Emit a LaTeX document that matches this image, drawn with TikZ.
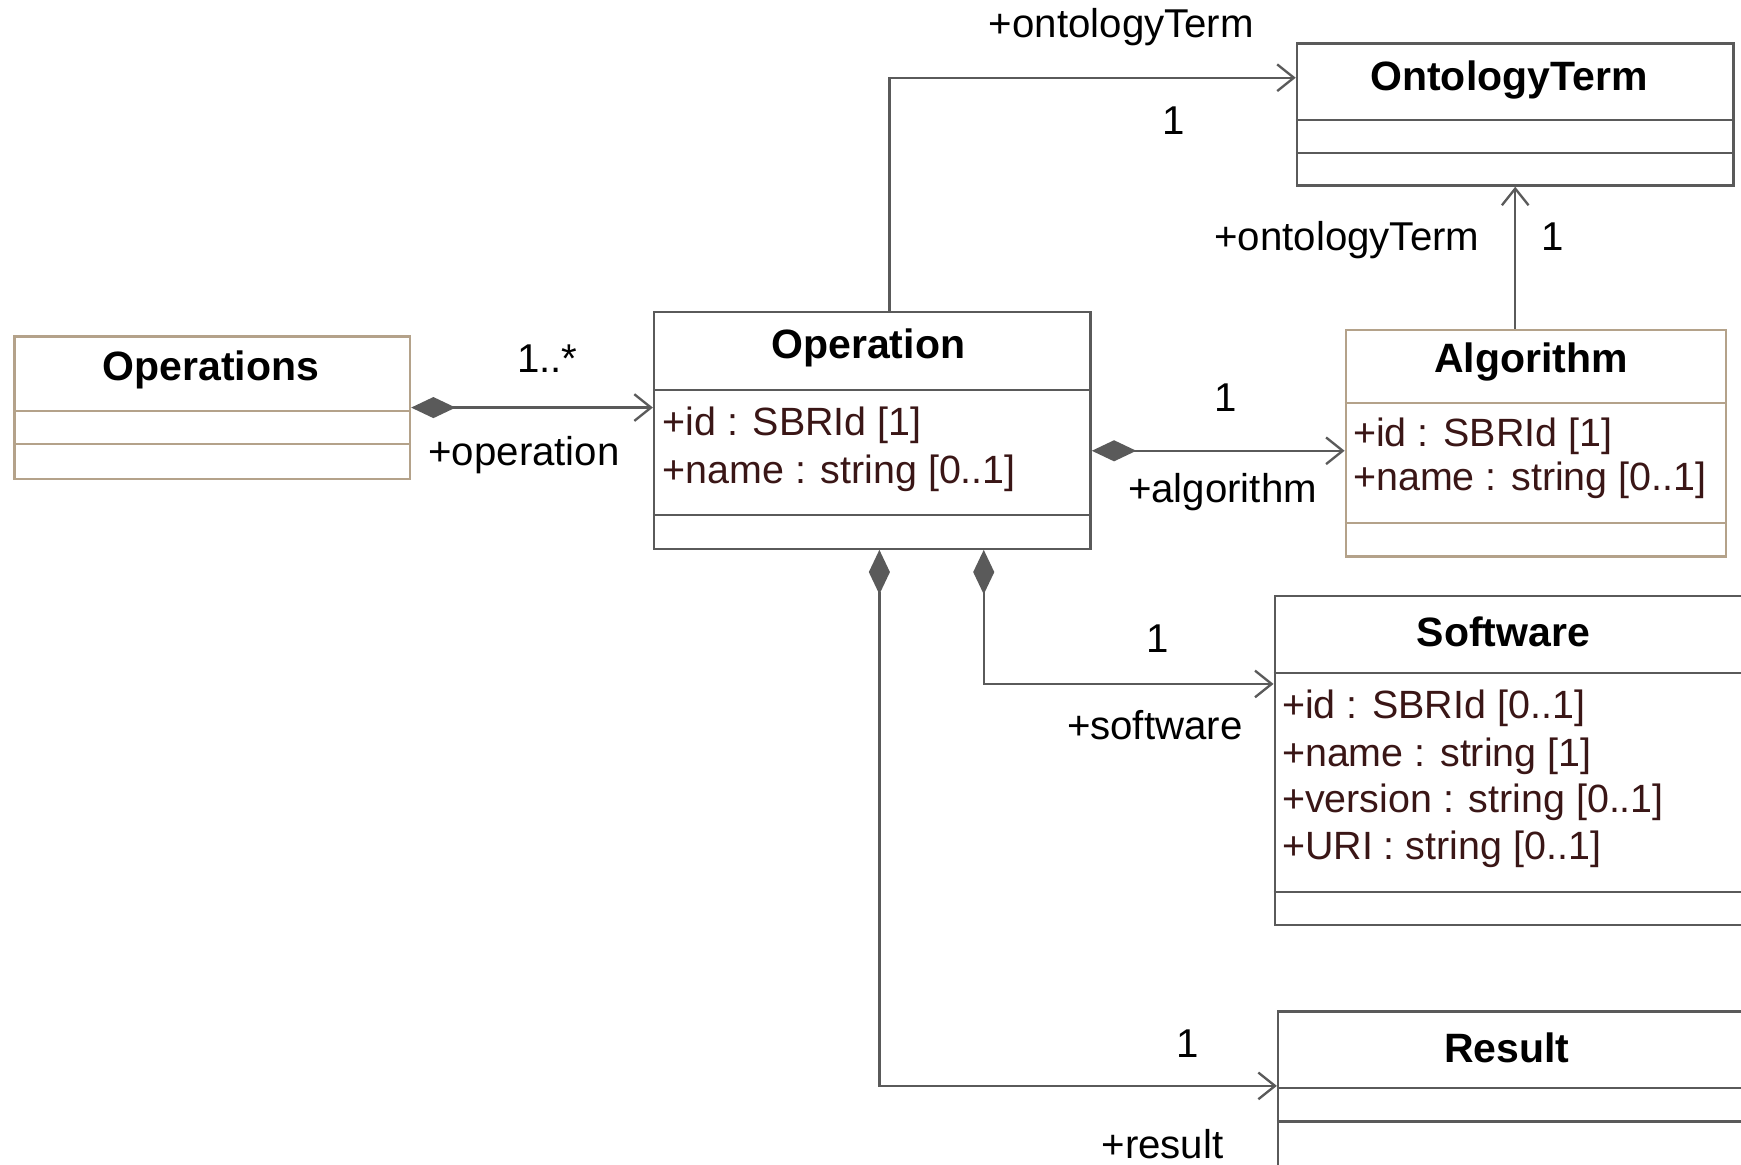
\documentclass[tikz,border=0pt]{standalone}
\usepackage{fontspec}
\setmainfont{Liberation Sans}
\usetikzlibrary{arrows.meta}
\definecolor{linegray}{HTML}{5A5A5A}
\definecolor{boxtan}{HTML}{B4A28A}
\definecolor{attrbrown}{HTML}{3A1616}

% class box: name, colour, top-left, width, height, header line, second line
\newcommand{\UmlClass}[7]{
\node[classbox, draw=#2, minimum width=#4cm, minimum height=#5cm] (#1) at (#3) {};
\draw[#2, boxline] ([yshift=-#6cm]#1.north west) -- ([yshift=-#6cm]#1.north east);
\draw[#2, boxline] ([yshift=-#7cm]#1.north west) -- ([yshift=-#7cm]#1.north east);
}

\begin{document}
\begin{tikzpicture}[x=0.01cm, y=-0.01cm,
classbox/.style={anchor=north west, inner sep=0, line width=.6pt, fill=white},
boxline/.style={line width=.6pt},
title/.style={font=\fontsize{10.5}{12}\selectfont\bfseries, inner sep=0},
attr/.style={font=\fontsize{10.1}{12}\selectfont, text=attrbrown, anchor=west, inner sep=0},
role/.style={font=\fontsize{10.3}{12}\selectfont, inner sep=0},
assoc/.style={linegray, line width=.6pt, {Diamond[length=4mm, width=1.9mm]}-{Straight Barb[length=1.5mm, width=2.4mm]}},
nav/.style={linegray, line width=.6pt, -{Straight Barb[length=1.5mm, width=2.4mm]}},
]
\useasboundingbox (0,0) rectangle (1568,1049);
\clip (0,0) rectangle (1568,1049);

%%%%%%%%%% CLASSES %%%%%%%%%%
\UmlClass{Operations}{boxtan}{12,302}{3.56}{1.28}{0.68}{0.98}
\node[title] (OperationsT) at (190,333) {Operations};

\UmlClass{Operation}{linegray}{588,280}{3.93}{2.13}{0.71}{1.84}
\node[title] (OperationT) at (782,313) {Operation};
\node[attr] (OperationId) at (596,383) {+id : SBRId [1]};
\node[attr] (OperationName) at (596,426) {+name : string [0..1]};

\UmlClass{OntologyTerm}{linegray}{1167,38}{3.93}{1.28}{0.70}{1.00}
\node[title] (OntologyTermT) at (1359,72) {OntologyTerm};

\UmlClass{Algorithm}{boxtan}{1211,296}{3.42}{2.04}{0.67}{1.75}
\node[title] (AlgorithmT) at (1379,326) {Algorithm};
\node[attr] (AlgorithmId) at (1218,393) {+id : SBRId [1]};
\node[attr] (AlgorithmName) at (1218,433) {+name : string [0..1]};

\UmlClass{Software}{linegray}{1147,536}{4.25}{2.96}{0.70}{2.67}
\node[title] (SoftwareT) at (1354,569) {Software};
\node[attr] (SoftwareId) at (1154,638) {+id : SBRId [0..1]};
\node[attr] (SoftwareName) at (1154,681) {+name : string [1]};
\node[attr] (SoftwareVersion) at (1154,723) {+version : string [0..1]};
\node[attr] (SoftwareURI) at (1154,765) {+URI : string [0..1]};

\UmlClass{Result}{linegray}{1150,910}{4.22}{1.60}{0.70}{1.00}
\node[title] (ResultT) at (1357,944) {Result};

%%%%%%%%%% CONNECTORS %%%%%%%%%%
\coordinate (TermY) at (801,70);
\coordinate (AlgY) at (0,406);
\coordinate (SoftX) at (886,616);
\coordinate (ResX) at (792,978);

\draw[assoc] (Operations.east) -- (Operations.east -| Operation.west);
\node[role] (OpMult) at (493,323) {1..*};
\node[role] (OpRole) at (472,410) {+operation};

\draw[nav] (Operation.north -| TermY) -- (TermY) -- (TermY -| OntologyTerm.west);
\node[role] (TermRole) at (1010,24) {+ontologyTerm};
\node[role] (TermMult) at (1057,109) {1};

\draw[nav] (Algorithm.north -| OntologyTerm.south) -- (OntologyTerm.south);
\node[role] (AlgTermRole) at (1213,216) {+ontologyTerm};
\node[role] (AlgTermMult) at (1398,213) {1};

\draw[assoc] (Operation.east |- AlgY) -- (Algorithm.west |- AlgY);
\node[role] (AlgMult) at (1104,358) {1};
\node[role] (AlgRole) at (1101,443) {+algorithm};

\draw[assoc] (Operation.south -| SoftX) -- (SoftX) -- (SoftX -| Software.west);
\node[role] (SoftMult) at (1043,575) {1};
\node[role] (SoftRole) at (1040,653) {+software};

\draw[assoc] (Operation.south -| ResX) -- (ResX) -- (ResX -| Result.west);
\node[role] (ResMult) at (1070,940) {1};
\node[role] (ResRole) at (1047,1030) {+result};
\end{tikzpicture}
\end{document}
